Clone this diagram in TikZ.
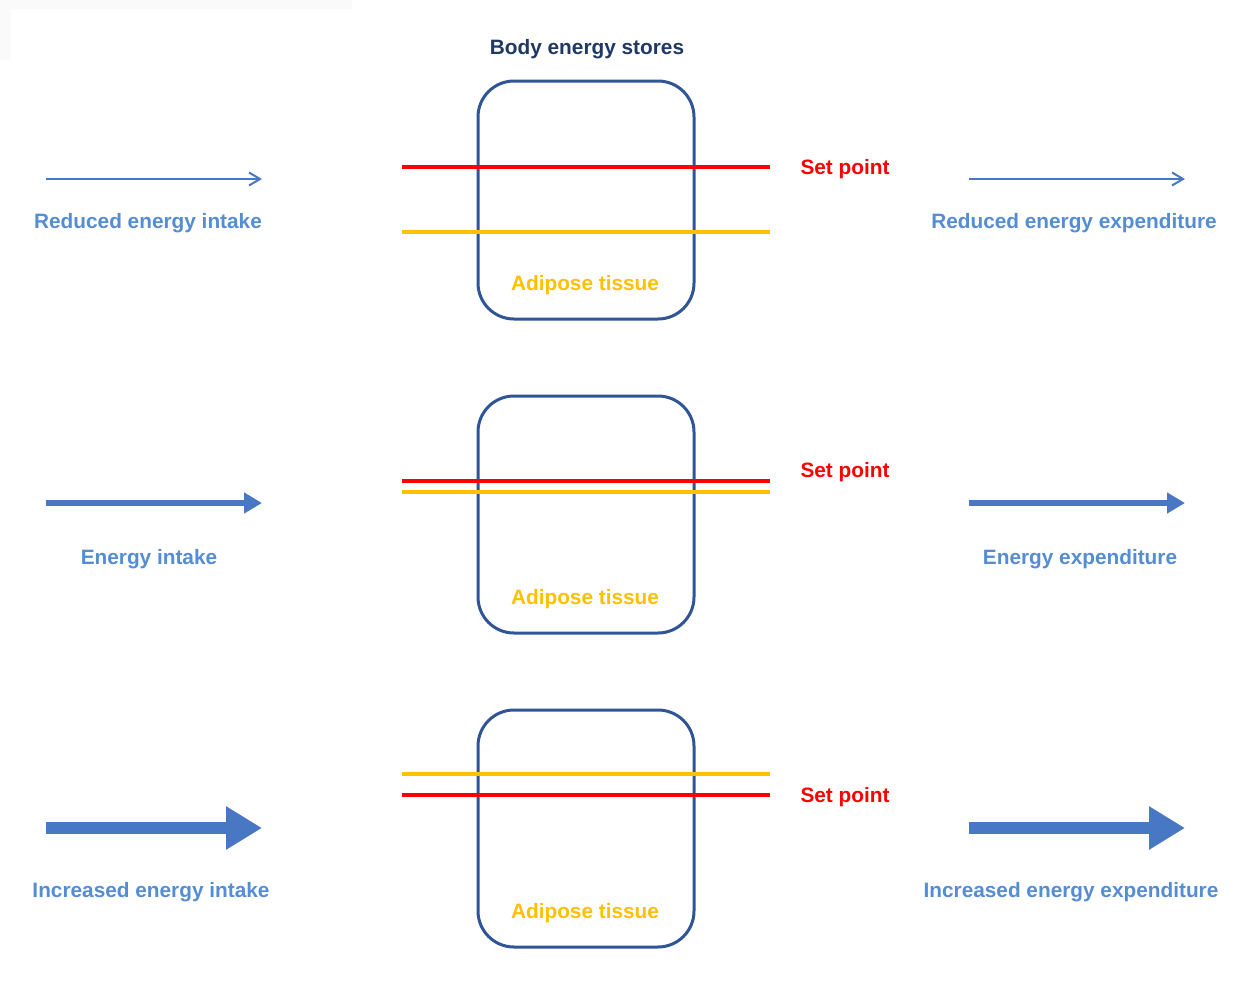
\documentclass[tikz,border=0pt]{standalone}
\usepackage{fontspec}
\setmainfont{Liberation Sans}
\usetikzlibrary{arrows.meta}
\definecolor{boxblue}{RGB}{47,85,151}
\definecolor{arrblue}{RGB}{72,120,196}
\definecolor{txtblue}{RGB}{84,141,212}
\definecolor{navy}{RGB}{31,56,100}
\definecolor{spred}{RGB}{255,0,0}
\definecolor{fatyel}{RGB}{255,192,0}
\tikzset{
  store/.style={draw=boxblue, line width=3pt, rounded corners=36pt},
  lab/.style={font=\fontsize{20.8}{24}\selectfont\bfseries, inner sep=0pt},
  bluelab/.style={lab, text=txtblue},
  setlab/.style={lab, text=spred},
  fatlab/.style={lab, text=fatyel},
  redline/.style={draw=spred, line width=3.2pt},
  yelline/.style={draw=fatyel, line width=3.2pt},
  thinarr/.style={draw=arrblue, line width=2pt, -{Straight Barb[length=11pt,width=13pt,line width=2pt]}},
  midarr/.style={draw=arrblue, line width=5.5pt, -{Triangle[length=18pt,width=20pt]}},
  bigarr/.style={draw=arrblue, line width=12pt, -{Triangle[length=36pt,width=41pt]}},
}
\begin{document}
\begin{tikzpicture}[x=1pt,y=-1pt]
\useasboundingbox (0,0) rectangle (1242,980);
\fill[white] (0,0) rectangle (1242,980);
\fill[black!2] (0,0) rectangle (352,9);
\fill[black!2] (0,0) rectangle (11,60);
\fill[white] (11,9) rectangle (352,60);

\node[lab, text=navy] (title) at (587,49) {Body energy stores};

% Row 1
\draw[store] (478,81) rectangle (694,319);
\draw[redline] (402,167) -- (770,167);
\draw[yelline] (402,232) -- (770,232);
\node[setlab] (sp1) at (845,169) {Set point};
\node[fatlab] (at1) at (585,285) {Adipose tissue};
\coordinate (a1s) at (46,179); \coordinate (a1e) at (262,179);
\draw[thinarr] (a1s) -- (a1e);
\coordinate (b1s) at (969,179); \coordinate (b1e) at (1185,179);
\draw[thinarr] (b1s) -- (b1e);
\node[bluelab] (in1) at (148,223) {Reduced energy intake};
\node[bluelab] (ex1) at (1074,223) {Reduced energy expenditure};

% Row 2
\draw[store] (478,396) rectangle (694,633);
\draw[redline] (402,481) -- (770,481);
\draw[yelline] (402,492) -- (770,492);
\node[setlab] (sp2) at (845,472) {Set point};
\node[fatlab] (at2) at (585,599) {Adipose tissue};
\coordinate (a2s) at (46,503); \coordinate (a2e) at (262,503);
\draw[midarr] (a2s) -- (a2e);
\coordinate (b2s) at (969,503); \coordinate (b2e) at (1185,503);
\draw[midarr] (b2s) -- (b2e);
\node[bluelab] (in2) at (149,559) {Energy intake};
\node[bluelab] (ex2) at (1080,559) {Energy expenditure};

% Row 3
\draw[store] (478,710) rectangle (694,947);
\draw[yelline] (402,774) -- (770,774);
\draw[redline] (402,795) -- (770,795);
\node[setlab] (sp3) at (845,797) {Set point};
\node[fatlab] (at3) at (585,913) {Adipose tissue};
\coordinate (a3s) at (46,828); \coordinate (a3e) at (262,828);
\draw[bigarr] (a3s) -- (a3e);
\coordinate (b3s) at (969,828); \coordinate (b3e) at (1185,828);
\draw[bigarr] (b3s) -- (b3e);
\node[bluelab] (in3) at (151,892) {Increased energy intake};
\node[bluelab] (ex3) at (1071,892) {Increased energy expenditure};
\end{tikzpicture}
\end{document}
